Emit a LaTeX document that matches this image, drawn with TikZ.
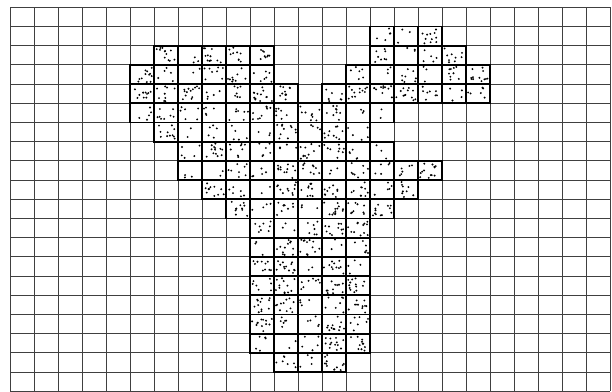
\documentclass[tikz,border=0pt]{standalone}
\usetikzlibrary{calc}
\begin{document}
\begin{tikzpicture}[x=0.8cm, y=-0.64cm,
  gridline/.style={draw=black!75, line width=0.8pt},
  cellbox/.style={draw=black, line width=1.6pt},
  speck/.style={fill=black}]
\useasboundingbox (-0.4167,-0.38) rectangle (25.0833,20.0);
\pgfmathsetseed{4711}
% background grid
\foreach \c in {0,...,25} \draw[gridline] (\c,0) -- (\c,20);
\foreach \r in {0,...,20} \draw[gridline] (0,\r) -- (25,\r);
% occupied cells: row/first column/last column
\foreach \r/\a/\b in {1/15/17, 2/6/10, 2/15/18, 3/5/10, 3/14/19, 4/5/11, 4/13/19,
    5/5/15, 6/6/14, 7/7/15, 8/7/17, 9/8/16, 10/9/15, 11/10/14, 12/10/14,
    13/10/14, 14/10/14, 15/10/14, 16/10/14, 17/10/14, 18/11/13}
  \foreach \c in {\a,...,\b} {
    \pgfmathrandominteger{\n}{2}{13}
    \foreach \k in {1,...,\n}
      \fill[speck] (\c+0.08+0.84*rnd, \r+0.1+0.8*rnd) circle (1pt);
    \draw[cellbox] (\c,\r) rectangle ++(1,1);
  }
\end{tikzpicture}
\end{document}
